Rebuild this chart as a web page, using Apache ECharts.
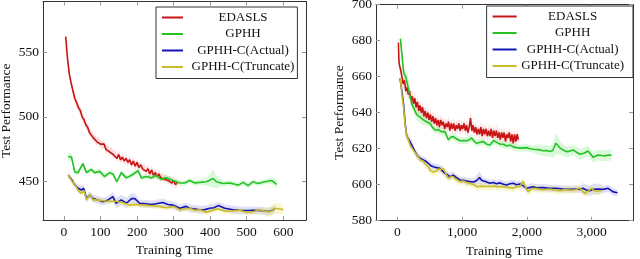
<!DOCTYPE html>
<html>
<head>
<meta charset="utf-8">
<script src="https://cdn.jsdelivr.net/npm/echarts@6/dist/echarts.min.js"></script>
<style>html,body{margin:0;padding:0;background:#fff;}#c{width:640px;height:259px;}</style>
</head>
<body>
<div id="c"></div>
<script>
// ---- DATA: [trainingTime, testPerformance, bandHalfWidth] ----
const seriesNames = ['EDASLS', 'GPHH', 'GPHH-C(Actual)', 'GPHH-C(Truncate)'];

const leftEdasls = [[5,562,3],[10,545,3],[15,533,3],[20,526,3],[25,520,3],[30,514,3],[35,511,3],[40,507,3],[45,505,3],[50,500,3],[55,498,3],[60,494,3],[65,492,3],[70,488,3],[75,487,3],[80,484,3],[85,483,3],[90,481,3],[95,482,3],[100,479,3],[105,478,3],[110,479,3],[115,475,3],[120,476,3],[125,473,3],[130,474,3],[135,471,3],[140,472,3],[145,468,3],[150,471,3],[155,467,3],[160,469,3],[165,466,3],[170,468,3],[175,465,3],[180,467,3],[185,463,3],[190,466,3],[195,462,3],[200,465,3],[205,461,3],[210,463,3],[215,460,3],[220,461,3],[225,458,3],[230,460,3],[235,456,3],[240,459,3],[245,455,3],[250,457,3],[255,454,3],[260,456,3],[265,453,3],[270,454,3],[275,452,3],[280,453,3],[285,451,3],[290,452,3],[295,449,3],[300,451,3],[305,448,3],[310,449,3]];
const leftGphh = [[12,469.5,3],[21,469,3],[30,457.5,2],[39,457,2],[52,464,2],[62,457,2],[75,459.5,2],[84,457,2],[98,458,2],[111,454,2],[125,457,2],[134,456,2],[145,450,2],[157,457,2],[171,453,2],[185,455,2],[203,458.5,2],[212,453,2],[225,454,2],[240,453,2],[252,455,2],[265,452,2],[280,453,2],[298,451,2],[317,449,2],[330,449,2],[344,451,2],[358,449,2],[372,449.5,2],[390,450,3],[408,452.5,7],[417,450,5],[435,448.7,2],[454,449,2],[468,448,2],[477,447.4,2],[490,449.5,2],[504,447,2],[517,450,2],[531,448.7,2],[550,450,2],[568,451,3],[582,448,3]];
const leftActual = [[12,455,2],[21,451.8,2],[30,447.5,2],[39,445,3],[48,443.6,3],[54,445,3],[62,437,3],[71,439.8,3],[80,437,3],[93,436,3],[107,434.6,3],[121,436,3],[134,438.5,4],[143,433.4,4],[157,436,4],[171,433.4,4],[185,437,4],[194,437,4],[207,433.4,3],[225,433,3],[240,432.5,3],[252,433,3],[270,434,3],[285,432.5,3],[298,432,3],[317,429.5,3],[334,431,3],[344,429.5,3],[358,429,3],[372,428.4,3],[385,428.5,3],[399,429.5,3],[410,430,3],[422,431.6,3],[440,429.5,3],[463,428.4,3],[480,428,3],[499,427.8,3],[518,428,3],[536,427.8,3],[559,427,3],[570,428,3],[577,429.5,3]];
const leftTruncate = [[12,455,2],[21,451,2],[30,448,2],[40,443,2],[48,441,2],[55,443,2],[62,436,2],[66,438,2],[72,440,2],[80,436,2],[90,436,2],[100,435.5,2],[120,435,2],[140,435,2],[160,434,2],[180,432,2],[200,432.5,2],[220,432,2],[240,431.5,2],[260,431,2],[280,430,2],[300,431,2],[317,428.4,2],[344,429.5,2],[358,428,2],[372,428.4,2],[390,426.4,2],[410,428.5,2],[422,429,2],[440,427.4,2],[463,427.4,2],[480,428,2],[499,426.4,2],[520,427,2],[536,428.4,2],[550,427,3],[564,427,4],[577,429.5,4],[590,429,4],[600,428.5,3]];

const rightEdasls = [[16,679,3],[25,668,3],[35,666,3],[50,664,3],[70,660,3],[90,656,3],[110,658,3],[130,652,3],[150,654,3],[170,650,3],[190,652,3],[210,647,3],[230,649,3],[250,645,3],[270,648,3],[290,643,3],[310,646,3],[330,641,3],[350,644,3],[370,640,3],[390,643,3],[410,638,3],[430,641,3],[450,637,3],[470,640,3],[490,636,3],[510,639,3],[530,635,3],[550,638,3],[570,634,3],[590,637,3],[610,633,3],[630,636,3],[650,632,3],[670,636,3],[690,633,3],[710,635,3],[730,631,3],[750,634,3],[770,632,3],[790,635,3],[810,630,3],[830,634,3],[850,631,3],[870,634,3],[890,630,3],[910,633,3],[930,631,3],[950,634,3],[970,630,3],[990,633,3],[1010,631,3],[1030,634,3],[1050,630,3],[1070,633,3],[1090,629,3],[1110,632,3],[1130,637,3],[1150,630,3],[1170,633,3],[1190,629,3],[1210,632,3],[1230,628,3],[1250,631,3],[1270,628,3],[1290,632,3],[1310,627,3],[1330,631,3],[1350,628,3],[1370,631,3],[1390,627,3],[1410,630,3],[1430,627,3],[1450,631,3],[1470,626,3],[1490,630,3],[1510,627,3],[1530,630,3],[1550,626,3],[1570,629,3],[1590,625,3],[1610,629,3],[1630,626,3],[1650,629,3],[1670,624,3],[1690,628,3],[1710,626,3],[1730,629,3],[1750,624,3],[1770,628,3],[1790,623,3],[1810,628,3],[1830,624,3],[1850,628,3],[1870,625,3]];
const rightGphh = [[47,681,5],[98,662,4],[130,660,3],[160,659,3],[190,650,3],[221,645,3],[260,642,3],[298,639,3],[350,637.5,3],[401,636,3],[450,635,2],[504,634,2],[540,632,2],[581,630.4,2],[630,630.5,2],[684,629.4,2],[735,629.5,2],[787,625,2],[830,626.5,2],[864,626.7,2],[910,625.5,2],[967,624.4,2],[1020,624.5,2],[1070,624.4,2],[1110,625,2],[1147,626,2],[1190,624,2],[1224,623,2],[1270,623.5,2],[1327,624,2],[1380,622.5,2],[1430,622,2],[1490,624.5,2],[1533,623.5,2],[1590,622.5,2],[1636,622.5,2],[1690,621.5,2],[1739,622,2],[1790,621,2],[1841,620.6,2],[1900,620.3,2],[1996,620.6,2],[2050,620,2],[2099,619.7,2],[2180,619.5,3],[2253,618.9,3],[2300,619,3],[2356,618.4,3],[2400,619,4],[2449,623,6],[2510,620.5,4],[2562,619.3,3],[2600,618.5,3],[2639,618.4,3],[2716,619.3,3],[2770,618,3],[2819,616.9,3],[2880,617.5,3],[2947,618.7,3],[3025,615.2,3],[3102,616.5,3],[3160,616.2,3],[3205,616,3],[3260,616.5,3],[3308,616.3,3]];
const rightActual = [[41,659,2],[70,652,2],[98,644,2],[120,634,2],[145,627,2],[170,626,2],[195,624,2],[221,623,2],[250,620,2],[273,618.3,2],[310,616,2],[350,614.7,2],[401,613.8,2],[440,613,2],[478,611.9,2],[520,610.5,2],[555,610,2],[600,609.5,2],[658,609.1,2],[700,607.5,2],[735,606.3,2],[775,605.5,2],[813,604.4,2],[840,605.5,2],[864,605.3,2],[910,604,2],[967,602.6,2],[1020,602.5,2],[1070,602,2],[1121,601.7,2],[1180,601.5,2],[1230,602.5,3],[1270,604,3.5],[1300,602.5,3],[1327,601.7,2],[1380,601.5,2],[1430,600.8,2],[1480,601.2,2],[1530,600.5,2],[1585,601,2],[1640,600.2,2],[1687,599.8,2],[1740,600.5,2],[1790,600.8,2],[1840,600,2],[1893,600.4,2],[1940,599.5,2],[1996,598,2],[2050,598.5,2],[2100,598.8,2],[2150,598.3,2],[2250,598.4,2],[2356,598,2],[2450,598,2],[2562,597.6,2],[2660,597.5,2],[2768,597.6,2],[2820,597.4,2],[2870,598,3],[2920,597,3],[2973,596.7,3],[3030,597.5,3],[3102,597.6,3],[3180,597.4,2],[3256,598,2],[3334,596,2],[3400,595.5,2]];
const rightTruncate = [[45,659,2],[70,650,2],[98,642,2],[120,633,2],[145,627,2],[170,625,2],[195,622,2],[221,621,2],[250,619,2],[273,618,2],[310,616,2],[350,614,2],[401,613,2],[440,611,2],[478,610,2],[504,608,2],[555,607,2],[600,607.5,2],[632,608.7,2],[670,608.5,2],[710,609,2],[750,606,2],[787,603.5,2],[830,604.5,2],[864,604.4,2],[910,603,2],[967,601.7,2],[1020,602,2],[1070,601.2,2],[1121,600.8,2],[1180,600,2],[1224,598.9,2],[1300,599.2,2],[1360,599,2],[1430,599,2],[1500,599.2,2],[1560,598.7,2],[1620,599,2],[1700,598.5,2],[1790,598,2],[1850,599,2],[1893,599,2],[1944,601.7,2],[1990,598,2],[2022,596,2],[2080,598,2],[2150,597.8,2],[2200,597.5,2],[2253,597.2,2],[2356,597.6,2],[2440,597,2],[2510,596.7,2],[2580,597.2,2],[2665,597,2],[2740,597.2,2],[2819,598,2],[2896,595.2,2],[2950,596.5,2],[2999,598,2],[3050,596.5,2],[3076,596,2],[3128,596.5,2],[3160,596.8,2]];

const leftXTicks = [0, 100, 200, 300, 400, 500, 600];
const leftYTicks = [450, 500, 550];
const rightXTicks = [0, 1000, 2000, 3000];
const rightYTicks = [580, 600, 620, 640, 660, 680, 700];

// ---- STYLE ----
const FONT = 'Liberation Serif';
const lineColors = ['#c81414', '#22c322', '#1414b4', '#c9bb2b'];
const bandColors = ['rgba(240,90,90,0.22)', 'rgba(70,220,70,0.2)', 'rgba(100,100,235,0.2)', 'rgba(235,225,70,0.28)'];

function bandSeries(data, idx, axisIdx) {
  return {
    type: 'custom', silent: true, xAxisIndex: axisIdx, yAxisIndex: axisIdx, z: 1,
    data: data, encode: { x: 0, y: 1 },
    renderItem: function (params, api) {
      if (params.dataIndex !== 0) return null;
      const pts = [];
      for (let i = 0; i < data.length; i++) pts.push(api.coord([data[i][0], data[i][1] + data[i][2]]));
      for (let i = data.length - 1; i >= 0; i--) pts.push(api.coord([data[i][0], data[i][1] - data[i][2]]));
      return { type: 'polygon', shape: { points: pts }, style: { fill: bandColors[idx] } };
    }
  };
}
function lineSeries(data, idx, axisIdx) {
  return {
    type: 'line', name: seriesNames[idx], xAxisIndex: axisIdx, yAxisIndex: axisIdx, z: 3,
    data: data.map(d => [d[0], d[1]]), showSymbol: false, symbol: 'none',
    color: lineColors[idx], lineStyle: { width: 1.6, color: lineColors[idx] }, animation: false
  };
}

const tickStyle = { show: true, inside: true, length: 4, lineStyle: { color: '#999', width: 1 } };
const lineAx = { show: true, onZero: false, lineStyle: { color: '#333', width: 1 } };
const lblStyle = { fontFamily: FONT, fontSize: 13.5, color: '#111' };

function xAx(grid, min, max, ticks, pos, withLabel, fmt) {
  const ax = {
    type: 'value', gridIndex: grid, position: pos, min: min, max: max,
    axisLine: lineAx, splitLine: { show: false },
    axisTick: Object.assign({ customValues: ticks }, tickStyle),
    axisLabel: Object.assign({ show: withLabel, customValues: ticks, margin: 5, formatter: fmt }, lblStyle)
  };
  if (withLabel) {
    ax.name = 'Training Time'; ax.nameLocation = 'middle'; ax.nameGap = 23;
    ax.nameTextStyle = { fontFamily: FONT, fontSize: 13.5, color: '#111' };
  }
  return ax;
}
function yAx(grid, min, max, ticks, pos, withLabel) {
  const ax = {
    type: 'value', gridIndex: grid, position: pos, min: min, max: max,
    axisLine: lineAx, splitLine: { show: false },
    axisTick: Object.assign({ customValues: ticks }, tickStyle),
    axisLabel: Object.assign({ show: withLabel, customValues: ticks, margin: 4 }, lblStyle)
  };
  if (withLabel) {
    ax.name = 'Test Performance'; ax.nameLocation = 'middle'; ax.nameGap = 30; ax.nameRotate = 90;
    ax.nameTextStyle = { fontFamily: FONT, fontSize: 13.5, color: '#111' };
  }
  return ax;
}
const thousands = v => v.toLocaleString('en-US');

function legendAt(pos, top, itemW, textW, padR) {
  return Object.assign({
    top: top, orient: 'vertical', data: seriesNames, selectedMode: false,
    icon: 'rect', itemWidth: itemW, itemHeight: 2, itemGap: 3.5,
    padding: [4, padR, 5, 6], borderColor: '#333', borderWidth: 1, backgroundColor: '#fff', borderRadius: 0,
    formatter: '{a|{name}}',
    textStyle: { rich: { a: { width: textW, align: 'center', fontFamily: FONT, fontSize: 13, color: '#111' } } }
  }, pos);
}

const allLeft = [leftEdasls, leftGphh, leftActual, leftTruncate];
const allRight = [rightEdasls, rightGphh, rightActual, rightTruncate];
const series = [];
allLeft.forEach((d, i) => series.push(bandSeries(d, i, 0)));
allRight.forEach((d, i) => series.push(bandSeries(d, i, 2)));
allLeft.forEach((d, i) => series.push(lineSeries(d, i, 0)));
allRight.forEach((d, i) => series.push(lineSeries(d, i, 2)));

const option = {
  animation: false,
  backgroundColor: '#fff',
  grid: [
    { left: 43, top: 1.5, width: 263, height: 218.5, containLabel: false, outerBoundsMode: 'none' },
    { left: 376, top: 4.7, width: 257, height: 216, containLabel: false, outerBoundsMode: 'none' }
  ],
  xAxis: [
    xAx(0, -57, 662, leftXTicks, 'bottom', true, null),
    xAx(0, -57, 662, leftXTicks, 'top', false, null),
    xAx(1, -330, 3640, rightXTicks, 'bottom', true, thousands),
    xAx(1, -330, 3640, rightXTicks, 'top', false, thousands)
  ],
  yAxis: [
    yAx(0, 420.5, 589, leftYTicks, 'left', true),
    yAx(0, 420.5, 589, leftYTicks, 'right', false),
    yAx(1, 580, 700, rightYTicks, 'left', true),
    yAx(1, 580, 700, rightYTicks, 'right', false)
  ],
  legend: [legendAt({ left: 156 }, 7, 21, 110, 3), legendAt({ right: 7 }, 6, 24, 102, 9)],
  series: series
};
const chart = echarts.init(document.getElementById('c'), null, { renderer: 'canvas' });
chart.setOption(option);
</script>
</body>
</html>
